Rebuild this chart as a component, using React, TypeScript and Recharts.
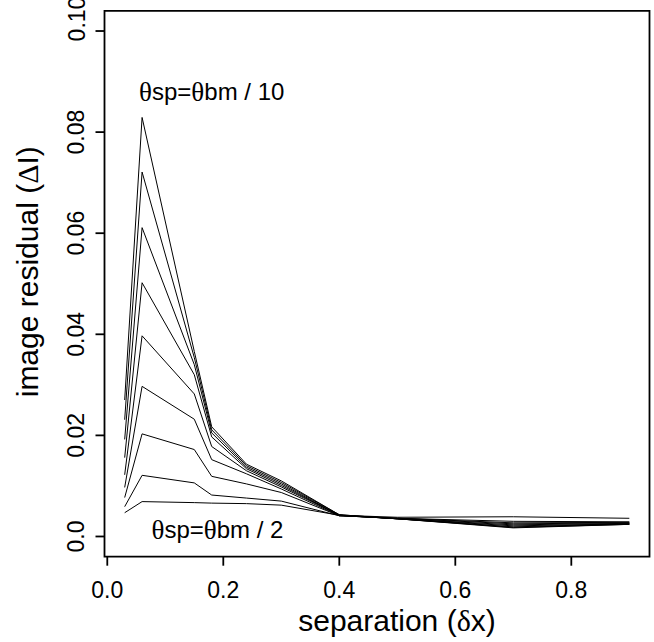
import React from 'react';
import {
  ComposedChart,
  Line,
  Scatter,
  XAxis,
  YAxis,
  ReferenceArea,
} from 'recharts';

// separation values sampled in the simulation
const separation = [0.03, 0.06, 0.15, 0.18, 0.24, 0.3, 0.4, 0.5, 0.7, 0.9];

// image residual for θsp = θbm / n
const div10 = [0.027, 0.0829, 0.0366, 0.0217, 0.0143, 0.011, 0.0043, 0.0035, 0.0017, 0.0024];
const div9 = [0.0231, 0.0721, 0.0354, 0.0211, 0.014, 0.0107, 0.0043, 0.0035, 0.0018, 0.0024];
const div8 = [0.0192, 0.0611, 0.034, 0.0205, 0.0137, 0.0104, 0.0042, 0.0035, 0.0019, 0.0025];
const div7 = [0.0156, 0.0502, 0.032, 0.0197, 0.0134, 0.0101, 0.0042, 0.0035, 0.0021, 0.0025];
const div6 = [0.0122, 0.0397, 0.0282, 0.0178, 0.013, 0.0098, 0.0042, 0.0035, 0.0023, 0.0026];
const div5 = [0.0097, 0.0297, 0.0232, 0.0152, 0.0124, 0.0094, 0.0041, 0.0036, 0.0025, 0.0027];
const div4 = [0.0077, 0.0203, 0.0172, 0.0119, 0.0104, 0.0087, 0.0041, 0.0036, 0.0027, 0.0028];
const div3 = [0.0059, 0.0121, 0.0106, 0.0082, 0.0076, 0.007, 0.0041, 0.0036, 0.003, 0.0029];
const div2 = [0.0047, 0.0069, 0.0067, 0.0066, 0.0065, 0.0062, 0.0042, 0.0038, 0.0039, 0.0036];

const series = [div10, div9, div8, div7, div6, div5, div4, div3, div2];

const xTicks = [0, 0.2, 0.4, 0.6, 0.8];
const xTickLabels = ['0.0', '0.2', '0.4', '0.6', '0.8'];
const yTicks = [0, 0.02, 0.04, 0.06, 0.08, 0.1];
const yTickLabels = ['0.0', '0.02', '0.04', '0.06', '0.08', '0.10'];

// R-style 4% padding around the data range
const xDomain = [-0.0048, 0.9348];
const yDomain = [-0.004, 0.104];

// annotations, placed in data coordinates
const notes = [
  { x: 0.18, y: 0.088, n: '10' },
  { x: 0.19, y: 0.0013, n: '2' },
];

const data = separation.map((x, i) => {
  const row: Record<string, number> = { x };
  series.forEach((s, k) => {
    row[`s${k}`] = s[i];
  });
  return row;
});

const sans = '"Liberation Sans", Arial, Helvetica, sans-serif';
const greek = '"Liberation Serif", "DejaVu Serif", serif';

const XTick = ({ x, y, payload }: any) => (
  <text x={x} y={y + 32} textAnchor="middle" fontSize={23} fontFamily={sans} fill="#000">
    {xTickLabels[payload.index]}
  </text>
);

const YTick = ({ x, y, payload }: any) => {
  const tx = x - 11;
  // top label sits a little higher in the original (it runs off the top edge)
  const ty = payload.index === yTicks.length - 1 ? y - 12 : y;
  return (
    <text
      x={tx}
      y={ty}
      transform={`rotate(-90 ${tx} ${ty})`}
      textAnchor="middle"
      fontSize={23}
      fontFamily={sans}
      fill="#000"
    >
      {yTickLabels[payload.index]}
    </text>
  );
};

const XTitle = ({ viewBox }: any) => (
  <text
    x={viewBox.x + viewBox.width / 2 + 20}
    y={631}
    textAnchor="middle"
    fontSize={30}
    fontFamily={sans}
    fill="#000"
  >
    separation (<tspan fontFamily={greek}>δ</tspan>x)
  </text>
);

const YTitle = ({ viewBox }: any) => {
  const cx = viewBox.x + 38;
  const cy = viewBox.y + viewBox.height / 2 - 12;
  return (
    <text
      x={cx}
      y={cy}
      transform={`rotate(-90 ${cx} ${cy})`}
      textAnchor="middle"
      fontSize={30}
      fontFamily={sans}
      fill="#000"
    >
      image residual (<tspan fontFamily={greek}>Δ</tspan>I)
    </text>
  );
};

const Note = ({ cx, cy, payload }: any) => (
  <text
    x={cx}
    y={cy}
    textAnchor="middle"
    dominantBaseline="central"
    fontSize={24}
    fontFamily={sans}
    fill="#000"
  >
    <tspan fontFamily={greek} fontSize={27}>θ</tspan>sp=
    <tspan fontFamily={greek} fontSize={27}>θ</tspan>bm / {payload.n}
  </text>
);

export default function App() {
  return (
    <div style={{ position: 'absolute', left: 0, top: 0, background: '#fff' }}>
      <ComposedChart
        width={654}
        height={642}
        data={data}
        margin={{ top: 10.8, right: 4.5, left: 0, bottom: 35.3 }}
      >
        <XAxis
          type="number"
          dataKey="x"
          domain={xDomain}
          ticks={xTicks}
          allowDataOverflow
          axisLine={false}
          tickLine={{ stroke: '#000', strokeWidth: 1.8 }}
          tickSize={9}
          tickMargin={0}
          tick={<XTick />}
          height={50}
          label={<XTitle />}
        />
        <YAxis
          type="number"
          domain={yDomain}
          ticks={yTicks}
          allowDataOverflow
          axisLine={false}
          tickLine={{ stroke: '#000', strokeWidth: 1.8 }}
          tickSize={9}
          tickMargin={0}
          tick={<YTick />}
          width={104.5}
          label={<YTitle />}
        />
        <ReferenceArea
          x1={xDomain[0]}
          x2={xDomain[1]}
          y1={yDomain[0]}
          y2={yDomain[1]}
          fill="#fff"
          fillOpacity={0}
          stroke="#000"
          strokeWidth={1.8}
          ifOverflow="visible"
        />
        {series.map((_, k) => (
          <Line
            key={k}
            type="linear"
            dataKey={`s${k}`}
            stroke="#000"
            strokeWidth={1}
            dot={false}
            isAnimationActive={false}
          />
        ))}
        <Scatter data={notes} dataKey="y" shape={<Note />} isAnimationActive={false} />
      </ComposedChart>
    </div>
  );
}
